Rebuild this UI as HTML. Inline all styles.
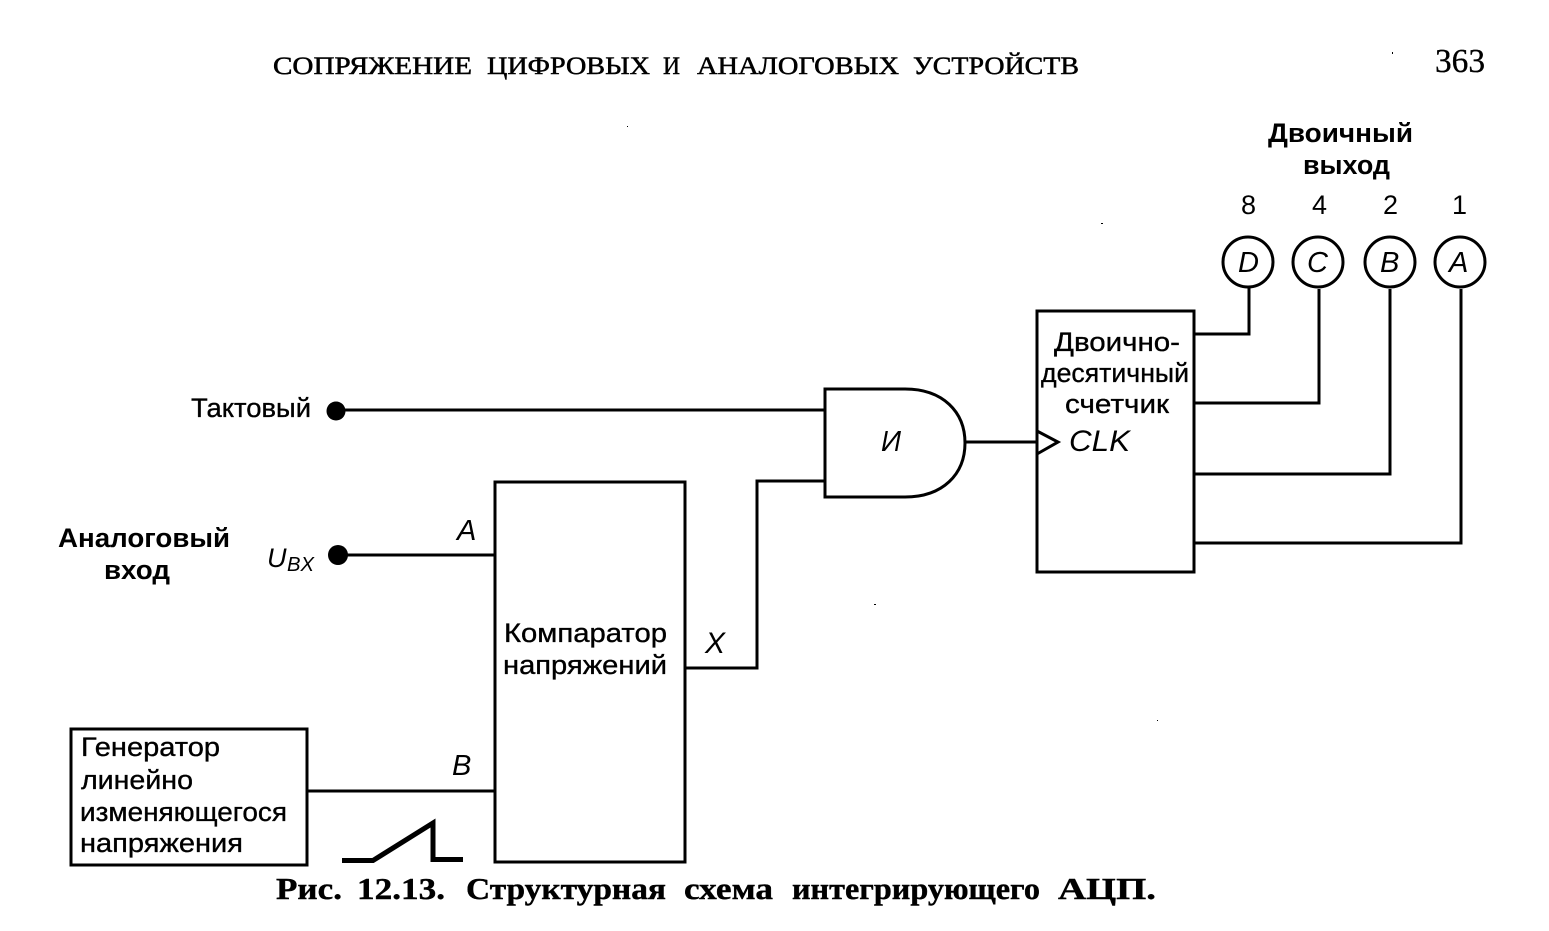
<!DOCTYPE html>
<html><head><meta charset="utf-8"><style>
html,body{margin:0;padding:0;background:#fff}
svg{display:block}
text{fill:#000;font-family:"Liberation Sans",sans-serif;font-size:27px}
.s{font-family:"Liberation Serif",serif}
.h{font-size:25px;stroke:#000;stroke-width:.5px}
.c{font-size:31px;font-weight:bold;stroke:#000;stroke-width:.4px}
.l{stroke:#000;stroke-width:.35px}
.b{font-weight:bold}
.i{font-style:italic}
</style></head><body>
<svg width="1549" height="931" viewBox="0 0 1549 931" xmlns="http://www.w3.org/2000/svg">
<g fill="none" stroke="#000" stroke-width="3">
<rect x="495" y="482" width="190" height="380"/>
<rect x="71" y="729" width="236" height="136"/>
<rect x="1037" y="311" width="157" height="261"/>
<path d="M825 389H905C943 389 965 412 965 443C965 474 943 497 905 497H825Z"/>
<path d="M345 410H825M347 555H494M308 791H495M686 668H757V481H825M966 442H1037"/>
<path d="M1195 334H1249V288M1195 403H1319V289M1195 474H1390V289M1195 543H1461V289"/>
<path d="M1037 431L1058 442L1037 454"/>
<circle cx="1248" cy="262" r="25"/>
<circle cx="1318" cy="262" r="25"/>
<circle cx="1390" cy="262" r="25"/>
<circle cx="1460" cy="262" r="25"/>
<path d="M342 860.5H373L433 823V859.5H463" stroke-width="5"/>
</g>
<circle cx="336" cy="411" r="9.5"/>
<circle cx="338" cy="555" r="10"/>
<g fill="#000"><rect x="627" y="126" width="1" height="1"/><rect x="1101" y="223" width="2" height="1"/><rect x="874" y="604" width="2" height="1"/><rect x="1157" y="720" width="1" height="1"/><rect x="1392" y="52" width="1" height="2"/></g>

<text class="s h" x="273" y="74" textLength="199" lengthAdjust="spacingAndGlyphs">СОПРЯЖЕНИЕ</text>
<text class="s h" x="487" y="74" textLength="163" lengthAdjust="spacingAndGlyphs">ЦИФРОВЫХ</text>
<text class="s h" x="663" y="74" textLength="17" lengthAdjust="spacingAndGlyphs">И</text>
<text class="s h" x="697" y="74" textLength="202" lengthAdjust="spacingAndGlyphs">АНАЛОГОВЫХ</text>
<text class="s h" x="913" y="74" textLength="166" lengthAdjust="spacingAndGlyphs">УСТРОЙСТВ</text>
<text class="s l" x="1435" y="72" style="font-size:34px" textLength="50" lengthAdjust="spacingAndGlyphs">363</text>

<text class="s c" x="276" y="899" textLength="66" lengthAdjust="spacingAndGlyphs">Рис.</text>
<text class="s c" x="357" y="899" textLength="88" lengthAdjust="spacingAndGlyphs">12.13.</text>
<text class="s c" x="466" y="899" textLength="200" lengthAdjust="spacingAndGlyphs">Структурная</text>
<text class="s c" x="684" y="899" textLength="89" lengthAdjust="spacingAndGlyphs">схема</text>
<text class="s c" x="792" y="899" textLength="248" lengthAdjust="spacingAndGlyphs">интегрирующего</text>
<text class="s c" x="1058" y="899" textLength="98" lengthAdjust="spacingAndGlyphs">АЦП.</text>

<text class="b" x="1268" y="142" textLength="145" lengthAdjust="spacingAndGlyphs">Двоичный</text>
<text class="b" x="1303" y="174" textLength="87" lengthAdjust="spacingAndGlyphs">выход</text>
<text x="1241" y="214">8</text><text x="1312" y="214">4</text><text x="1383" y="214">2</text><text x="1452" y="214">1</text>
<text class="i" x="1238" y="272" style="font-size:29px">D</text>
<text class="i" x="1307" y="272" style="font-size:29px">C</text>
<text class="i" x="1380" y="272" style="font-size:29px">B</text>
<text class="i" x="1449" y="272" style="font-size:29px">A</text>

<text class="l" x="191" y="417" textLength="120" lengthAdjust="spacingAndGlyphs">Тактовый</text>
<text class="b" x="58" y="547" textLength="172" lengthAdjust="spacingAndGlyphs">Аналоговый</text>
<text class="b" x="104" y="579" textLength="66" lengthAdjust="spacingAndGlyphs">вход</text>
<text class="i" x="267" y="567">U</text>
<text class="i" x="287" y="571" style="font-size:20px" textLength="27" lengthAdjust="spacingAndGlyphs">BX</text>
<text class="i" x="457" y="540" style="font-size:29px">A</text>
<text class="i" x="452" y="775" style="font-size:29px">B</text>
<text class="i" x="705" y="653" style="font-size:30px">X</text>
<text class="l" x="504" y="642" textLength="163" lengthAdjust="spacingAndGlyphs">Компаратор</text>
<text class="l" x="503" y="674" textLength="164" lengthAdjust="spacingAndGlyphs">напряжений</text>
<text class="i" x="881" y="451" style="font-size:29px" textLength="20" lengthAdjust="spacingAndGlyphs">И</text>

<text class="l" x="1054" y="351" textLength="126" lengthAdjust="spacingAndGlyphs">Двоично-</text>
<text class="l" x="1041" y="382" textLength="148" lengthAdjust="spacingAndGlyphs">десятичный</text>
<text class="l" x="1065" y="413" textLength="104" lengthAdjust="spacingAndGlyphs">счетчик</text>
<text class="i" x="1069" y="451" style="font-size:30px" textLength="61" lengthAdjust="spacingAndGlyphs">CLK</text>

<text class="l" x="81" y="756" textLength="139" lengthAdjust="spacingAndGlyphs">Генератор</text>
<text class="l" x="81" y="789" textLength="112" lengthAdjust="spacingAndGlyphs">линейно</text>
<text class="l" x="80" y="821" textLength="207" lengthAdjust="spacingAndGlyphs">изменяющегося</text>
<text class="l" x="80" y="852" textLength="163" lengthAdjust="spacingAndGlyphs">напряжения</text>
</svg>
</body></html>
